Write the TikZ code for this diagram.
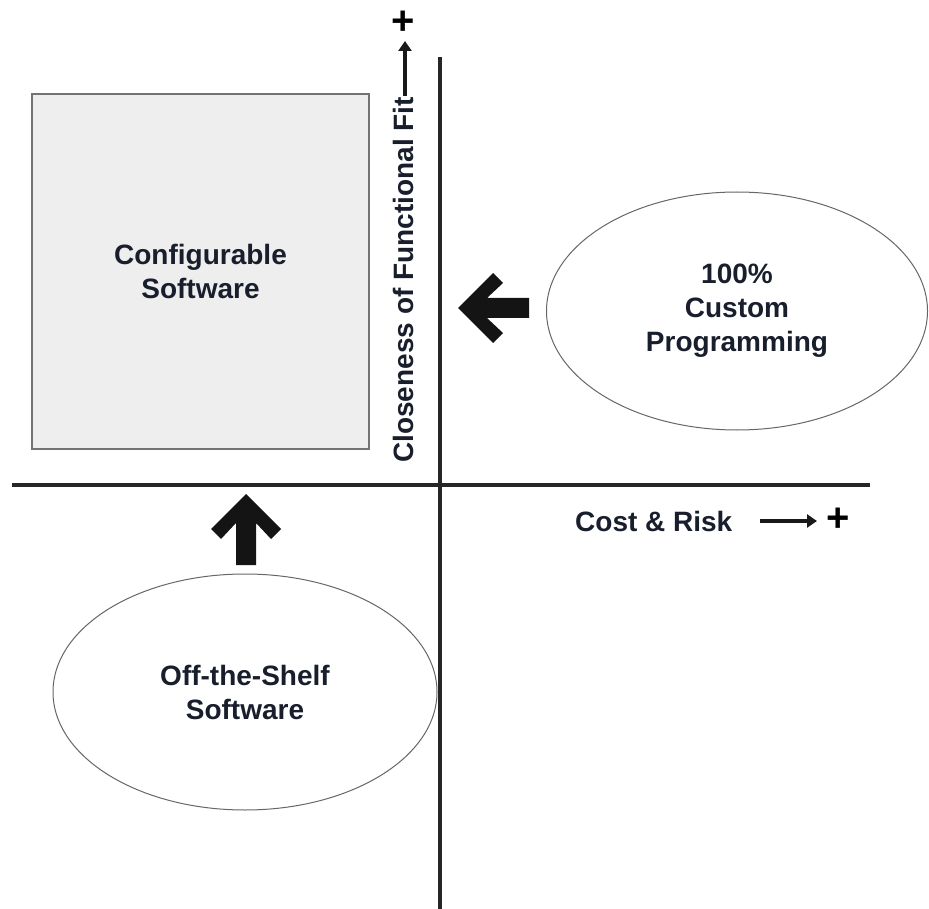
\documentclass[tikz,border=0pt]{standalone}
\usepackage{fontspec}
\setmainfont{Liberation Sans}
\usepackage{xcolor}
\usepackage{tikz}
\usetikzlibrary{shapes.geometric}
\usetikzlibrary{arrows.meta}

\definecolor{inkblue}{RGB}{24,30,44}
\definecolor{boxgray}{RGB}{238,238,238}
\definecolor{rimgray}{RGB}{115,115,115}

\tikzset{
    label text/.style = {font=\fontsize{28}{34}\selectfont\bfseries, text=inkblue, align=center},
    plus sign/.style = {font=\fontsize{40}{40}\selectfont\bfseries, inner sep=0pt},
    axis/.style = {line width=3.5pt, color=black!85},
    thin arrow/.style = {line width=4.5pt, color=black!90, -{Triangle[length=10pt, width=13pt]}},
    fat arrow/.pic = {
        \fill[black!92] (0, 0) -- (35, -35) -- (45, -25) -- (29, -10) -- (71, -10)
            -- (71, 10) -- (29, 10) -- (45, 25) -- (35, 35) -- cycle;
    }
}

\begin{document}
\begin{tikzpicture}[x=1pt, y=-1pt]
            \useasboundingbox (0, 0) rectangle (929, 909);

            % axes
            \coordinate (ytop) at (440, 57);
            \coordinate (ybot) at (440, 909);
            \coordinate (xleft) at (12, 485);
            \coordinate (xright) at (870, 485);
            \draw[axis] (ytop) -- (ybot);
            \draw[axis] (xleft) -- (xright);

            % quadrant shapes
            \node[draw = rimgray, fill = boxgray, line width = 2pt, inner sep = 0pt,
                minimum width = 337pt, minimum height = 355pt, label text] (config)
                at (200.5, 271.5) {Configurable\\Software};
            \node[ellipse, draw = black!60, line width = 1pt, inner sep = 0pt,
                minimum width = 381pt, minimum height = 238pt, label text] (custom)
                at (737, 311) {100\%\\Custom\\Programming};
            \node[ellipse, draw = black!60, line width = 1pt, inner sep = 0pt,
                minimum width = 384pt, minimum height = 236pt, label text] (shelf)
                at (245, 692) {Off-the-Shelf\\Software};

            % moves towards configurable software
            \coordinate (lefttip) at (458, 308);
            \coordinate (uptip) at (246, 494);
            \pic at (lefttip) {fat arrow};
            \pic[rotate = -90] at (uptip) {fat arrow};

            % axis labels
            \node[label text, rotate = 90] (fit) at (403, 280) {Closeness of Functional Fit};
            \coordinate (fitfoot) at (405, 96);
            \coordinate (fithead) at (405, 41);
            \draw[thin arrow] (fitfoot) -- (fithead);
            \node[plus sign] (fitplus) at (403, 23) {+};

            \node[label text, anchor = west, inner sep = 0pt] (cost) at (575, 521) {Cost \& Risk};
            \coordinate (costfoot) at (760, 521);
            \coordinate (costhead) at (817, 521);
            \draw[thin arrow] (costfoot) -- (costhead);
            \node[plus sign] (costplus) at (838, 520) {+};
        \end{tikzpicture}
\end{document}
